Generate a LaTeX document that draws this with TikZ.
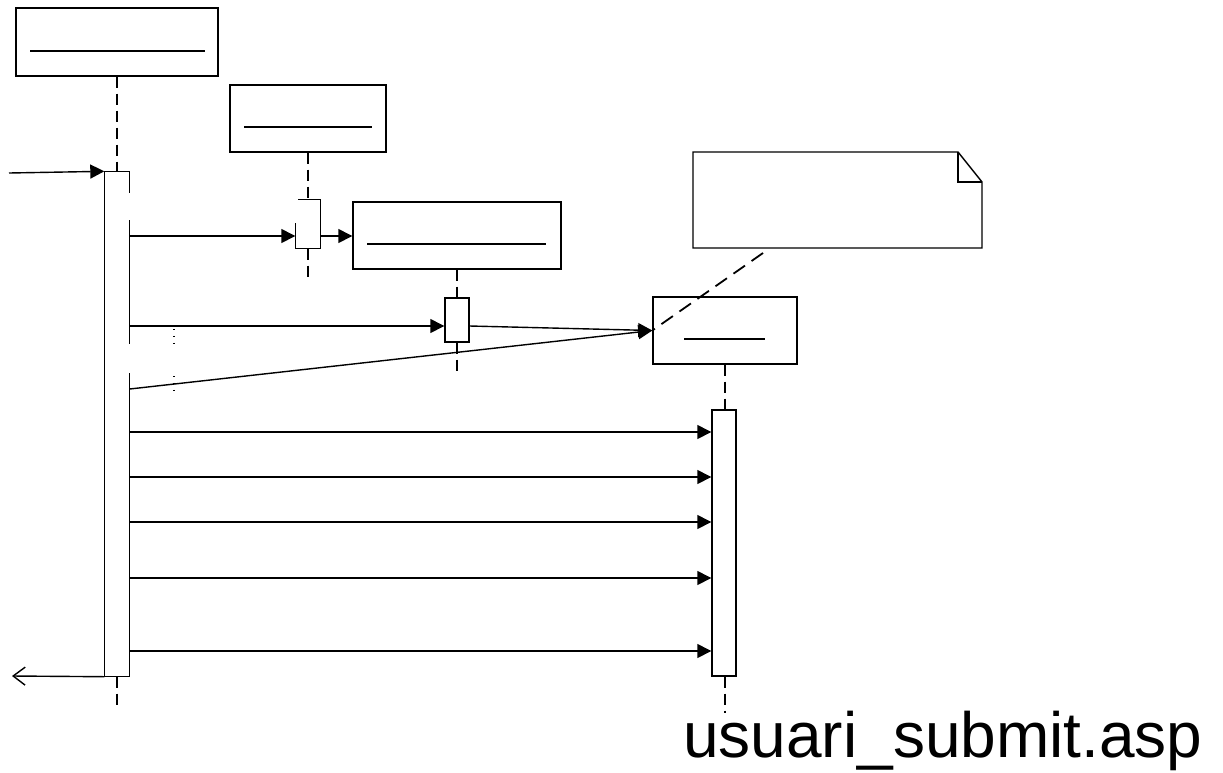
\documentclass[tikz,border=0pt]{standalone}
\usepackage{fontspec}
\setmainfont{Liberation Sans}
\usetikzlibrary{arrows.meta, positioning, calc}

\begin{document}
\begin{tikzpicture}[
    x=1pt, y=-1pt,
    obj/.style={draw, line width=1.4pt, inner sep=0pt, minimum height=67pt},
    actbar/.style={draw, line width=1.4pt, inner sep=0pt, minimum width=24pt},
    edge/.style={line width=1.4pt},
    uline/.style={line width=1.6pt},
    life/.style={line width=1.4pt, dash pattern=on 11pt off 6pt},
    msg/.style={-{Triangle[length=14pt, width=14pt]}, line width=1.4pt},
    ret/.style={-{Straight Barb[length=12pt, width=18pt]}, line width=1.4pt},
    notelink/.style={line width=1.8pt, dash pattern=on 14pt off 8pt},
    guard/.style={line width=1.2pt, dash pattern=on 1.4pt off 5.5pt},
]
\useasboundingbox (0,0) rectangle (1223,772);

\node[obj, minimum width=202pt, minimum height=68pt] (web) at (117,42) {};
\node[obj, minimum width=156pt] (conn) at (308,118.5) {};
\node[obj, minimum width=208pt] (cmd) at (457,235.5) {};
\node[obj, minimum width=144pt] (rs) at (725,330.5) {};

\draw[uline] ([shift={(15pt,-9pt)}]web.west) -- ([shift={(-14pt,-9pt)}]web.east);
\draw[uline] ([shift={(15pt,-8.5pt)}]conn.west) -- ([shift={(-15pt,-8.5pt)}]conn.east);
\draw[uline] ([shift={(15pt,-8.5pt)}]cmd.west) -- ([shift={(-16pt,-8.5pt)}]cmd.east);
\draw[uline] ([shift={(32pt,-8.5pt)}]rs.west) -- ([shift={(-33pt,-8.5pt)}]rs.east);

\node[actbar, draw=none, minimum height=504pt] (b1) at (117,424) {};
\node[actbar, draw=none, minimum height=48pt] (b2) at (308,224) {};
\node[actbar, minimum height=44pt] (b3) at (457,320) {};
\node[actbar, minimum height=266pt] (b4) at (724,543) {};

\draw[edge] (b1.north east) -- (b1.north west) -- (b1.south west) -- (b1.south east) -- ++(0,-304);
\draw[edge] (b1.north east) -- ++(0,22);
\draw[edge] ([yshift=-49pt]b1.north east) -- ++(0,124);
\draw[edge] ([xshift=3pt]b2.north west) -- (b2.north east) -- (b2.south east) -- (b2.south west) -- ++(0,-26);

\draw[life] (web) -- (b1);
\draw[life] (b1.south) -- ++(0,31);
\draw[life] (conn) -- (b2);
\draw[life] (b2.south) -- ++(0,34);
\draw[life] (cmd) -- (b3);
\draw[life] (b3.south) -- ++(0,30);
\draw[life] (rs.south) -- (rs.south |- b4.north);
\draw[life] (b4.south -| rs.south) -- ++(0,36);

\coordinate (src) at (9,173);
\coordinate (dst) at (12,676);
\draw[msg] (src) -- (b1.north west);
\draw[ret] (b1.south west) -- (dst);

\coordinate (m1) at (0,236);
\coordinate (m2) at (0,326);
\coordinate (m3) at (0,389);
\draw[msg] (b1.east |- m1) -- (b2.west |- m1);
\draw[msg] (b2.east |- m1) -- (cmd.west |- m1);
\draw[msg] (b1.east |- m2) -- (b3.west |- m2);
\draw[msg] (b3.east |- m2) -- (rs.west);
\draw[msg] (b1.east |- m3) -- (rs.west);

\foreach \y [count=\i] in {432,477,522,578,651} {
    \coordinate (c\i) at (0,\y);
    \draw[msg] (b1.east |- c\i) -- (b4.west |- c\i);
}

\draw[guard] (174,329) -- (174,345);
\draw[guard] (174,376) -- (174,392);

\draw[edge] (693,152) -- (958,152) -- (982,182) -- (982,248) -- (693,248) -- cycle;
\draw[edge] (958,152) -- (958,182) -- (982,182);
\coordinate (tag) at (763,253);
\draw[notelink] (tag) -- (rs.west);

\node[anchor=base west, inner sep=0pt, font=\fontsize{64}{70}\selectfont] (fname) at (683,757) {usuari\_submit.asp};

\end{tikzpicture}
\end{document}
